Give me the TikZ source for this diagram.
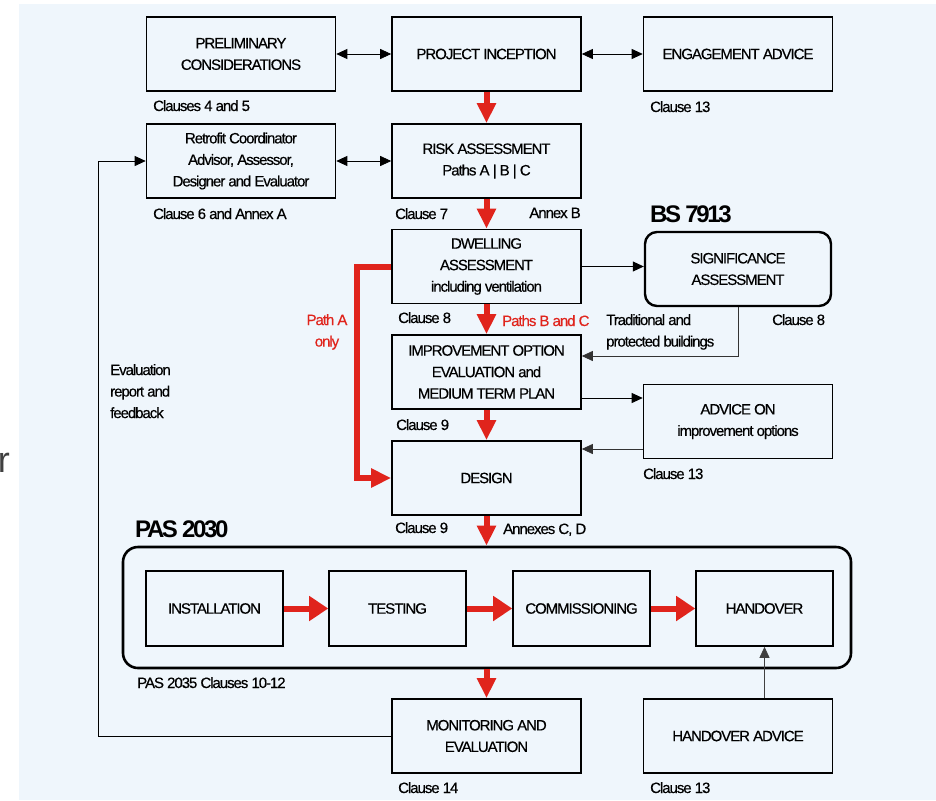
\documentclass[tikz,border=0pt]{standalone}
\usepackage{fontspec}
\setmainfont{Liberation Sans}[LetterSpace=-7, FakeBold=0.4]
\newfontfamily\headfont{Liberation Sans}[LetterSpace=-10]
\newfontfamily\plainfont{Liberation Sans}
\usepackage{tikz}
\usepackage{xcolor}
\usetikzlibrary{
    arrows.meta,
    positioning
}
\definecolor{flowred}{RGB}{224,36,28}
\definecolor{panel}{RGB}{239,246,252}
\tikzset{
    box/.style={draw, line width=1.6pt, minimum width=189pt, minimum height=74pt,
        align=center, inner sep=2pt, font=\fontsize{15}{21.5}\selectfont},
    stagebox/.style={box, minimum width=137pt, minimum height=75pt},
    roundbox/.style={box, rounded corners=12pt, line width=2.4pt},
    note/.style={inner sep=0pt, align=left, font=\fontsize{15}{21.5}\selectfont},
    rednote/.style={note, text=flowred},
    headnote/.style={inner sep=0pt, font=\headfont\bfseries\fontsize{24}{24}\selectfont},
    flow/.style={draw=flowred, line width=6pt, -{Triangle[length=20pt,width=18pt]}},
    stageflow/.style={draw=flowred, line width=6pt, -{Triangle[length=19pt,width=24pt]}},
    link/.style={line width=0.8pt, -{Triangle[length=11pt,width=10pt]}},
    twoway/.style={line width=0.8pt, {Triangle[length=11pt,width=10pt]}-{Triangle[length=11pt,width=10pt]}}
}

\begin{document}
\begin{tikzpicture}[x=1pt, y=-1pt]
    \useasboundingbox (0,0) rectangle (936,800);
    \fill[panel] (19,4) rectangle (936,800);
    \node[anchor=base east, inner sep=0pt, text=black!75, font=\plainfont\fontsize{36}{36}\selectfont] (cut) at (10,472) {r};

    \node[box] (prelim) at (241,54) {PRELIMINARY\\CONSIDERATIONS};
    \node[box] (incep) at (486.5,54) {PROJECT INCEPTION};
    \node[box] (engage) at (738,54) {ENGAGEMENT ADVICE};
    \node[box] (retro) at (241,161) {Retrofit Coordinator\\Advisor, Assessor,\\Designer and Evaluator};
    \node[box] (risk) at (486.5,161) {RISK ASSESSMENT\\Paths A | B | C};
    \node[box] (dwell) at (486.5,266.5) {DWELLING\\ASSESSMENT\\including ventilation};
    \node[roundbox, minimum width=186pt] (signif) at (738,269) {SIGNIFICANCE\\ASSESSMENT};
    \node[box] (improve) at (486.5,372) {IMPROVEMENT OPTION\\EVALUATION and\\MEDIUM TERM PLAN};
    \node[box] (advice) at (738,421.5) {ADVICE ON\\improvement options};
    \node[box] (design) at (486.5,478) {DESIGN};
    \node[roundbox, minimum width=728pt, minimum height=121pt, rounded corners=15pt, line width=2.6pt] (pas) at (487,607.5) {};
    \node[stagebox] (install) at (214.5,608.5) {INSTALLATION};
    \node[stagebox] (testing) at (397.5,608.5) {TESTING};
    \node[stagebox] (commis) at (581.5,608.5) {COMMISSIONING};
    \node[stagebox] (handover) at (764.5,608.5) {HANDOVER};
    \node[box] (monitor) at (486.5,736) {MONITORING AND\\EVALUATION};
    \node[box] (hadvice) at (738,736) {HANDOVER ADVICE};

    \node[headnote, anchor=base west] (bs) at (650,222) {BS 7913};
    \node[headnote, anchor=base west] (pashead) at (135,537) {PAS 2030};

    \node[note, anchor=base west] (c45) at (153,111) {Clauses 4 and 5};
    \node[note, anchor=base west] (c13a) at (650,112) {Clause 13};
    \node[note, anchor=base west] (c6) at (153,219) {Clause 6 and Annex A};
    \node[note, anchor=base west] (c7) at (395,219) {Clause 7};
    \node[note, anchor=base east] (annb) at (581,218) {Annex B};
    \node[note, anchor=base west] (c8a) at (398,323) {Clause 8};
    \node[rednote, anchor=base west] (pbc) at (502,326) {Paths B and C};
    \node[rednote, anchor=north, align=center] (pa) at (327,314) {Path A\\only};
    \node[note, anchor=north west] (trad) at (606,314) {Traditional and\\protected buildings};
    \node[note, anchor=base west] (c8b) at (772,325) {Clause 8};
    \node[note, anchor=north west] (evalfb) at (110,364) {Evaluation\\report and\\feedback};
    \node[note, anchor=base west] (c9a) at (396,430) {Clause 9};
    \node[note, anchor=base west] (c13b) at (643,479) {Clause 13};
    \node[note, anchor=base west] (c9b) at (395,533) {Clause 9};
    \node[note, anchor=base west] (anncd) at (503,534) {Annexes C, D};
    \node[note, anchor=base west] (pas35) at (137,688) {PAS 2035 Clauses 10-12};
    \node[note, anchor=base west] (c14) at (398,793) {Clause 14};
    \node[note, anchor=base west] (c13c) at (650,793) {Clause 13};

    \draw[twoway] (prelim) -- (incep);
    \draw[twoway] (incep) -- (engage);
    \draw[twoway] (retro) -- (risk);

    \draw[flow] (incep) -- (risk);
    \draw[flow] (risk) -- (dwell);
    \draw[flow] (dwell) -- (improve);
    \draw[flow] (improve) -- (design);
    \draw[flow] (design.south) -- (design.south |- pas.north);
    \draw[flow] (monitor.north |- pas.south) -- (monitor.north);
    \draw[flow] (dwell.west) -- ++(-34,0) |- (design.west);

    \draw[stageflow] (install) -- (testing);
    \draw[stageflow] (testing) -- (commis);
    \draw[stageflow] (commis) -- (handover);

    \draw[link] (dwell.east) -- (dwell.east -| signif.west);
    \draw[link, draw=black!80] (signif.south) |- ([yshift=16pt]improve.east);
    \draw[link] ([yshift=-26pt]improve.east) -- ([yshift=-26pt]improve.east -| advice.west);
    \draw[link, draw=black!80] ([yshift=-27.5pt]advice.west) -- ([yshift=-27.5pt]advice.west -| design.east);
    \draw[link, draw=black!75] (handover.south |- hadvice.north) -- (handover.south);
    \draw[link] (monitor.west) -- ++(-293,0) |- (retro.west);
\end{tikzpicture}
\end{document}
